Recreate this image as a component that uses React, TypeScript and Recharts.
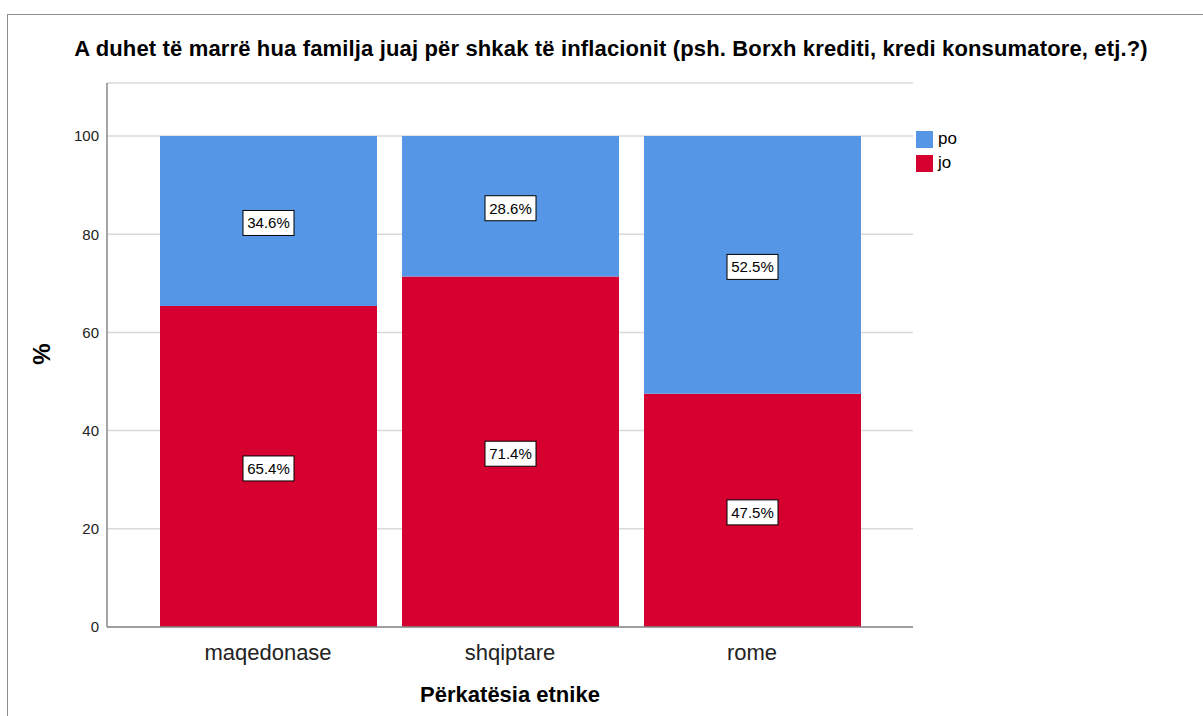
import { BarChart, Bar, XAxis, YAxis, CartesianGrid, LabelList } from "recharts";

const categories = ["maqedonase", "shqiptare", "rome"];
const joValues = [65.4, 71.4, 47.5];
const poValues = [34.6, 28.6, 52.5];
const yTicks = [0, 20, 40, 60, 80, 100];

const chartData = categories.map((c, i) => ({ name: c, jo: joValues[i], po: poValues[i] }));

const BLUE = "#5597e6";
const RED = "#d5002f";
const FONT = "'Liberation Sans', Arial, sans-serif";

const BoxLabel = (props: any) => {
  const { x, y, width, height, value } = props;
  const cx = x + width / 2;
  const cy = y + height / 2 + 2;
  const text = `${Number(value).toFixed(1)}%`;
  const w = 51;
  const h = 25;
  return (
    <g>
      <rect x={cx - w / 2} y={cy - h / 2} width={w} height={h} fill="#fff" stroke="#000" strokeWidth={1} />
      <text x={cx} y={cy + 5.5} textAnchor="middle" fontSize={15} fontFamily={FONT} fill="#000">
        {text}
      </text>
    </g>
  );
};

export default function App() {
  return (
    <div style={{ position: "absolute", left: 0, top: 0, width: 1203, height: 716, background: "#fff", overflow: "hidden", fontFamily: FONT }}>
      <div style={{ position: "absolute", left: 7, top: 14, width: 1195, height: 720, borderTop: "1px solid #8c8c8c", borderLeft: "1px solid #8c8c8c" }} />
      <div style={{ position: "absolute", left: 0, top: 38, width: 1222, textAlign: "center", fontSize: 22, lineHeight: "22px", fontWeight: "bold", color: "#000", letterSpacing: 0.15, whiteSpace: "nowrap" }}>
        A duhet të marrë hua familja juaj për shkak të inflacionit (psh. Borxh krediti, kredi konsumatore, etj.?)
      </div>
      <div style={{ position: "absolute", left: 0, top: 684, width: 1020, textAlign: "center", fontSize: 22, lineHeight: "22px", fontWeight: "bold", color: "#000" }}>
        Përkatësia etnike
      </div>
      <div style={{ position: "absolute", left: 28, top: 340, width: 28, height: 28, textAlign: "center", fontSize: 24, lineHeight: "28px", fontWeight: "bold", transform: "rotate(-90deg)", color: "#000" }}>
        %
      </div>
      <div style={{ position: "absolute", left: 916, top: 127, fontSize: 17, color: "#000", lineHeight: "24px" }}>
        {[["po", BLUE], ["jo", RED]].map(([label, color]) => (
          <div key={label} style={{ display: "flex", alignItems: "center" }}>
            <span style={{ display: "inline-block", width: 17, height: 17, background: color, marginRight: 5 }} />
            {label}
          </div>
        ))}
      </div>
      <div style={{ position: "absolute", left: 0, top: 0 }}>
        <BarChart
          width={1203}
          height={716}
          data={chartData}
          margin={{ top: 83, right: 290, bottom: 59, left: 67 }}
          barSize={217}
        >
          <CartesianGrid vertical={false} stroke="#d9d9d9" strokeWidth={1.5} />
          <YAxis
            width={40}
            domain={[0, 110.8]}
            ticks={yTicks}
            allowDataOverflow
            tickLine={false}
            tickSize={0}
            tickMargin={8}
            axisLine={{ stroke: "#888", strokeWidth: 1.5 }}
            tick={{ fontSize: 15, fill: "#222", fontFamily: FONT }}
          />
          <XAxis
            dataKey="name"
            height={30}
            padding={{ left: 40, right: 40 }}
            tickLine={false}
            tickSize={0}
            tickMargin={17}
            axisLine={{ stroke: "#888", strokeWidth: 1.5 }}
            tick={{ fontSize: 22, fill: "#222", fontFamily: FONT }}
          />
          <Bar dataKey="jo" stackId="a" fill={RED} isAnimationActive={false}>
            <LabelList dataKey="jo" content={BoxLabel} />
          </Bar>
          <Bar dataKey="po" stackId="a" fill={BLUE} isAnimationActive={false}>
            <LabelList dataKey="po" content={BoxLabel} />
          </Bar>
        </BarChart>
      </div>
    </div>
  );
}
